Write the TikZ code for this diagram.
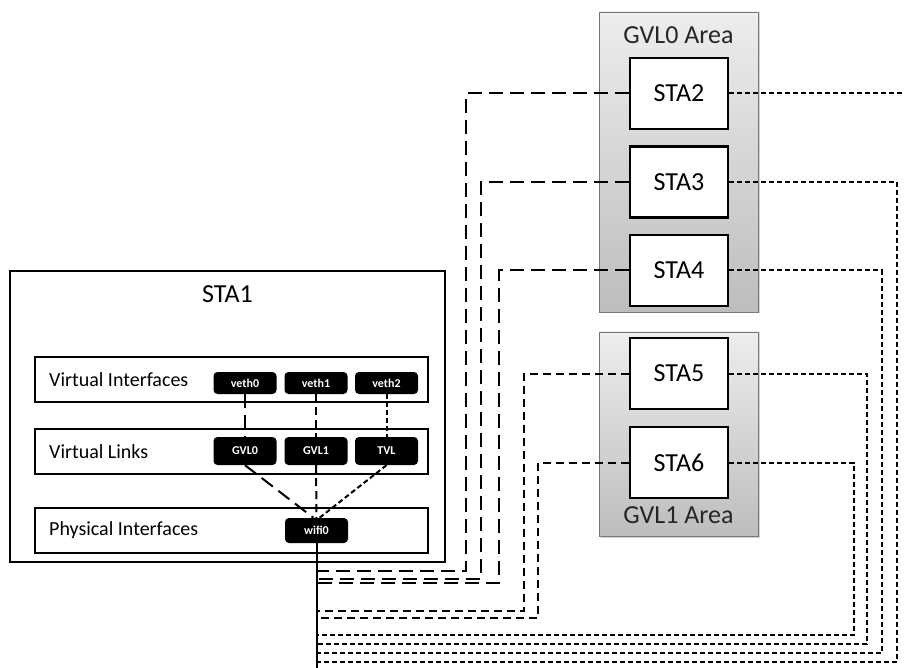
\documentclass[tikz,border=0pt]{standalone}
\usepackage{fontspec}
\setmainfont{Carlito}
\usetikzlibrary{shadows}
\definecolor{AreaTop}{RGB}{237,237,237}
\definecolor{AreaBottom}{RGB}{189,189,189}
\definecolor{AreaBorder}{RGB}{120,120,120}

\begin{document}
\begin{tikzpicture}[x=1pt,y=-1pt,
  stabox/.style={draw,line width=2.4pt,fill=white,inner sep=0pt,minimum width=98pt,minimum height=71pt,font=\fontsize{26}{30}\selectfont},
  layer/.style={draw,line width=2pt,fill=white,minimum width=393pt,minimum height=45pt,inner sep=0pt},
  layertxt/.style={anchor=west,inner sep=0pt,font=\fontsize{20}{24}\selectfont},
  pill/.style={fill=black,rounded corners=4pt,minimum width=63pt,minimum height=#1,inner sep=0pt,text=white,font=\fontsize{12}{14}\selectfont\bfseries},
  area/.style={draw=AreaBorder,line width=0.8pt,top color=AreaTop,bottom color=AreaBottom,minimum width=159pt,inner sep=0pt,drop shadow={opacity=0.35,shadow xshift=1.5pt,shadow yshift=-1.5pt}},
  areatxt/.style={font=\fontsize{26}{30}\selectfont,text=black!85},
  gvlzero/.style={line width=2pt,dash pattern=on 14pt off 7pt},
  gvlone/.style={line width=2pt,dash pattern=on 8pt off 5pt},
  tvlink/.style={line width=2pt,dash pattern=on 5pt off 3pt}]
\useasboundingbox (0,0) rectangle (905,668);

% STA1 with its layers
\node[draw,line width=2.4pt,minimum width=435pt,minimum height=291pt,inner sep=0pt] (sta1) at (227.5,416.5) {};
\node[font=\fontsize{26}{30}\selectfont] (sta1txt) at (227.5,294) {STA1};
\foreach \n/\y/\t in {vi/379.5/Virtual Interfaces,vl/451.5/Virtual Links,pi/530.5/Physical Interfaces} {
  \node[layer] (\n) at (231.5,\y) {};
  \node[layertxt] (\n txt) at (49,\y) {\t};
}
\foreach \n/\t/\x in {veth0/veth0/245,veth1/veth1/316,veth2/veth2/386.5} {
  \node[pill=22pt] (\n) at (\x,383) {\t};
}
\foreach \n/\t/\x in {gvl0/GVL0/245,gvl1/GVL1/316,tvl/TVL/386.5} {
  \node[pill=28pt] (\n) at (\x,451) {\t};
}
\node[pill=25pt] (wifi0) at (316.5,530.5) {wifi0};

\draw[gvlzero] (veth0) -- (gvl0);
\draw[gvlone] (veth1) -- (gvl1);
\draw[tvlink] (veth2) -- (tvl);
\draw[gvlzero] (gvl0.south) -- ([xshift=-3pt]wifi0.north);
\draw[gvlone] (gvl1) -- (wifi0);
\draw[tvlink] (tvl.south) -- ([xshift=3pt]wifi0.north);

% areas
\node[area,minimum height=300pt] (gvl0area) at (678.5,162) {};
\node[areatxt] (gvl0txt) at (678.5,35) {GVL0 Area};
\node[area,minimum height=204pt] (gvl1area) at (678.5,434) {};
\node[areatxt] (gvl1txt) at (678.5,515) {GVL1 Area};

\foreach \i/\y in {2/93.5,3/182,4/270.5,5/373.5,6/462.5} {
  \node[stabox] (sta\i) at (679,\y) {STA\i};
}

% links down to wifi0
\coordinate (trunkend) at (316.5,668);
\draw[line width=2pt] (wifi0.south) -- (trunkend);
\foreach \i/\x/\y/\s in {2/466/571/gvlzero,3/481/579/gvlzero,4/499/583/gvlzero,5/524/611/gvlone,6/538/618/gvlone} {
  \draw[\s] (sta\i.west) -| (\x,\y) -- (wifi0 |- 0,\y);
}
\foreach \i/\x/\y in {2/912/671,3/897/662,4/882/653,5/867/644,6/854/635} {
  \draw[tvlink] (sta\i.east) -| (\x,\y) -- (wifi0 |- 0,\y);
}
\end{tikzpicture}
\end{document}
